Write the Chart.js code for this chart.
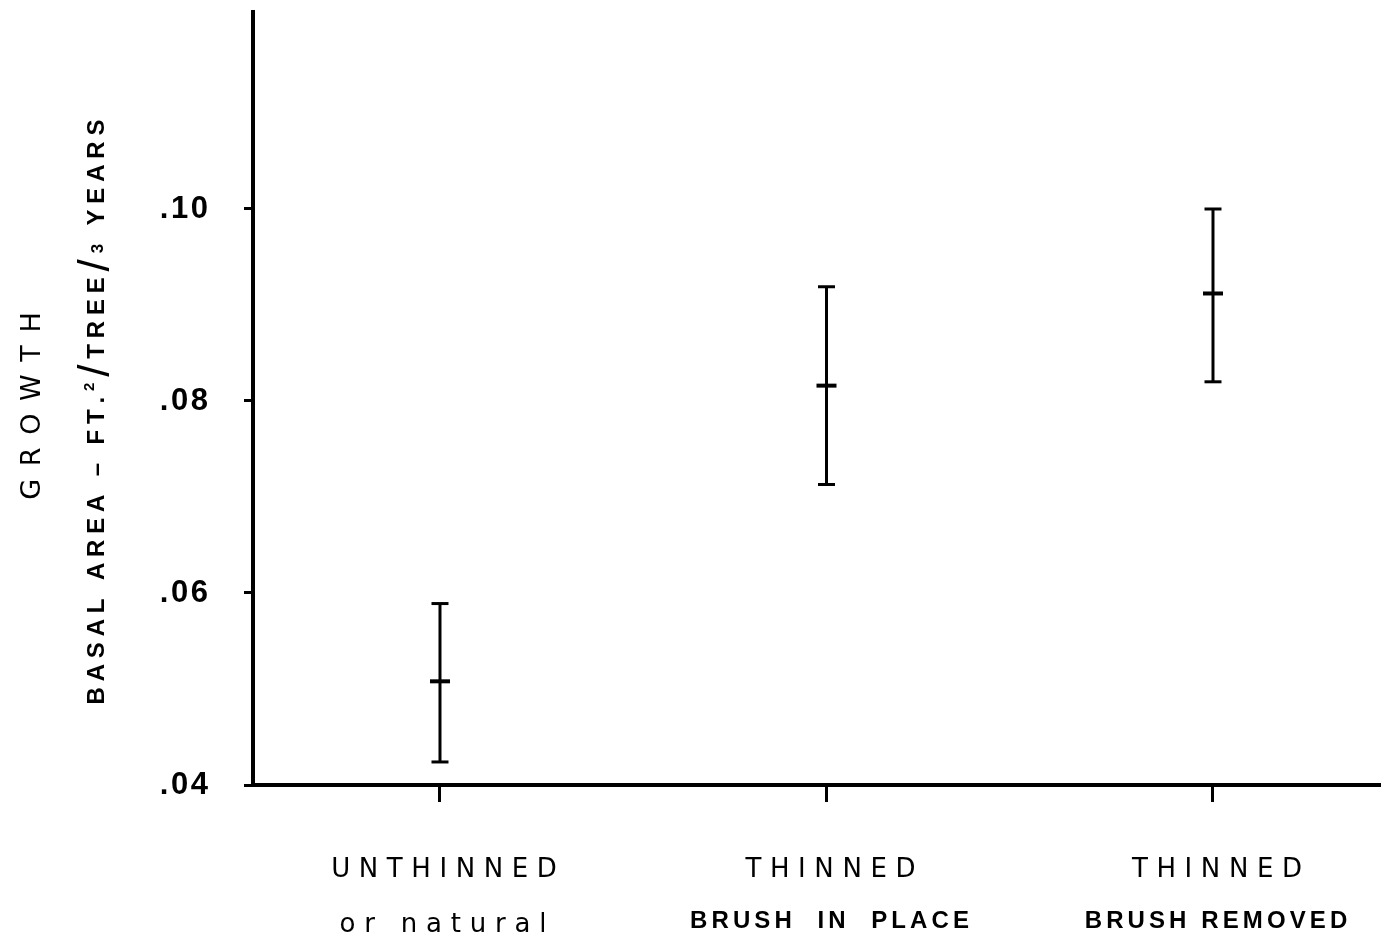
<!DOCTYPE html>
<html><head><meta charset="utf-8">
<script src="https://cdn.jsdelivr.net/npm/chart.js@4.4.1/dist/chart.umd.min.js"></script>
<style>html,body{margin:0;padding:0;background:#fff;}#wrap{width:1382px;height:941px;position:relative;}</style>
</head><body><div id="wrap"><canvas id="c" width="1382" height="941"></canvas></div>
<script>
// ---- data ----
const categories = ['UNTHINNED', 'THINNED', 'THINNED'];
const subLabels = ['or natural', 'BRUSH  IN  PLACE', 'BRUSH REMOVED'];
const positions = [1, 2, 3];
const means = [0.0508, 0.0816, 0.0912];
const upper = [0.0589, 0.0919, 0.1000];
const lower = [0.0424, 0.0713, 0.0820];
const yTicks = [0.04, 0.06, 0.08, 0.10];
const yTitle = 'GROWTH';
const yUnitParts = [
  { t: 'BASAL AREA – FT.', k: 'main' },
  { t: '2', k: 'sup' },
  { t: '/', k: 'slash' },
  { t: 'TREE', k: 'main' },
  { t: '/', k: 'slash' },
  { t: '3', k: 'small' },
  { t: ' YEARS', k: 'main' }
];

// ---- helpers ----
function drawSpaced(ctx, text, cx, baseline, font, spacing) {
  ctx.font = font;
  const chars = [...text];
  const ws = chars.map(c => ctx.measureText(c).width);
  const total = ws.reduce((a, b) => a + b, 0) + spacing * (chars.length - 1);
  let x = cx - total / 2;
  ctx.textAlign = 'left';
  ctx.textBaseline = 'alphabetic';
  chars.forEach((c, i) => { ctx.fillText(c, x, baseline); x += ws[i] + spacing; });
}

const partFonts = {
  main: { font: "bold 24px 'Liberation Sans', Arial, sans-serif", dy: 0 },
  sup: { font: "bold 15px 'Liberation Sans', Arial, sans-serif", dy: -10 },
  small: { font: "bold 17px 'Liberation Sans', Arial, sans-serif", dy: -1 },
  slash: { font: "44px 'Liberation Sans', Arial, sans-serif", dy: 5 }
};

const textPlugin = {
  id: 'texts',
  afterDraw(chart) {
    const ctx = chart.ctx;
    const xs = chart.scales.x;
    ctx.save();
    ctx.fillStyle = '#000';
    positions.forEach((p, i) => {
      const px = xs.getPixelForValue(p);
      drawSpaced(ctx, categories[i], px + 4, 877, "26px 'DejaVu Sans', sans-serif", 8.6);
      const subFont = i === 0 ? "26px 'DejaVu Sans', sans-serif" : "bold 24px 'Liberation Sans', Arial, sans-serif";
      const subSp = i === 0 ? 8.8 : 4.1;
      drawSpaced(ctx, subLabels[i], px + 3, i === 0 ? 932 : 928, subFont, subSp);
    });
    ctx.save();
    ctx.translate(30, 406);
    ctx.rotate(-Math.PI / 2);
    drawSpaced(ctx, yTitle, 0, 10, "27px 'DejaVu Sans', sans-serif", 12.6);
    ctx.restore();

    ctx.save();
    ctx.translate(95, 412);
    ctx.rotate(-Math.PI / 2);
    const items = [];
    yUnitParts.forEach(part => {
      const f = partFonts[part.k];
      ctx.font = f.font;
      [...part.t].forEach(c => items.push({ c, font: f.font, dy: f.dy, w: ctx.measureText(c).width }));
    });
    const target = 585;
    const sum = items.reduce((a, b) => a + b.w, 0);
    const sp = (target - sum) / (items.length - 1);
    let x = -target / 2;
    ctx.textAlign = 'left';
    ctx.textBaseline = 'alphabetic';
    items.forEach(it => { ctx.font = it.font; ctx.fillText(it.c, x, 9 + it.dy); x += it.w + sp; });
    ctx.restore();
    ctx.restore();
  }
};

const datasets = positions.map((p, i) => ({
  type: 'line',
  data: [{ x: p, y: lower[i] }, { x: p, y: upper[i] }],
  borderColor: '#000',
  borderWidth: 3,
  pointStyle: 'line',
  pointRadius: 8.5,
  pointBorderWidth: 3,
  pointBorderColor: '#000',
  showLine: true,
  fill: false
}));
datasets.push({
  type: 'scatter',
  data: positions.map((p, i) => ({ x: p, y: means[i] })),
  pointStyle: 'line',
  pointRadius: 10,
  pointBorderWidth: 4,
  pointBorderColor: '#000',
  borderColor: '#000'
});

function zeroPad(s) { s.paddingTop = 0; s.paddingBottom = 0; s.paddingLeft = 0; s.paddingRight = 0; }

new Chart(document.getElementById('c'), {
  type: 'scatter',
  data: { datasets },
  plugins: [textPlugin],
  options: {
    responsive: false,
    animation: false,
    devicePixelRatio: 1,
    layout: { autoPadding: false, padding: { left: 0, right: 2, top: 12, bottom: 0 } },
    plugins: { legend: { display: false }, tooltip: { enabled: false } },
    scales: {
      x: {
        type: 'linear',
        min: 0.5162,
        max: 3.4321,
        afterBuildTicks: s => { s.ticks = positions.map(v => ({ value: v })); },
        afterFit: s => { s.height = 156; zeroPad(s); },
        border: { display: true, color: '#000', width: 4 },
        grid: { drawOnChartArea: false, drawTicks: true, tickLength: 17, tickWidth: 3, tickColor: '#000' },
        ticks: { display: false }
      },
      y: {
        type: 'linear',
        min: 0.04,
        max: 0.12052,
        afterBuildTicks: s => { s.ticks = yTicks.map(v => ({ value: v })); },
        afterFit: s => { s.width = 253; zeroPad(s); },
        border: { display: true, color: '#000', width: 4 },
        grid: { drawOnChartArea: false, drawTicks: true, tickLength: 9, tickWidth: 3, tickColor: '#000' },
        ticks: {
          color: '#000',
          padding: 36,
          font: { family: "'Liberation Sans', Arial, sans-serif", weight: 'bold', size: 31 },
          callback: v => ('.' + String(Math.round(v * 100)).padStart(2, '0')).split('').join('\u200A')
        }
      }
    }
  }
});
</script></body></html>
